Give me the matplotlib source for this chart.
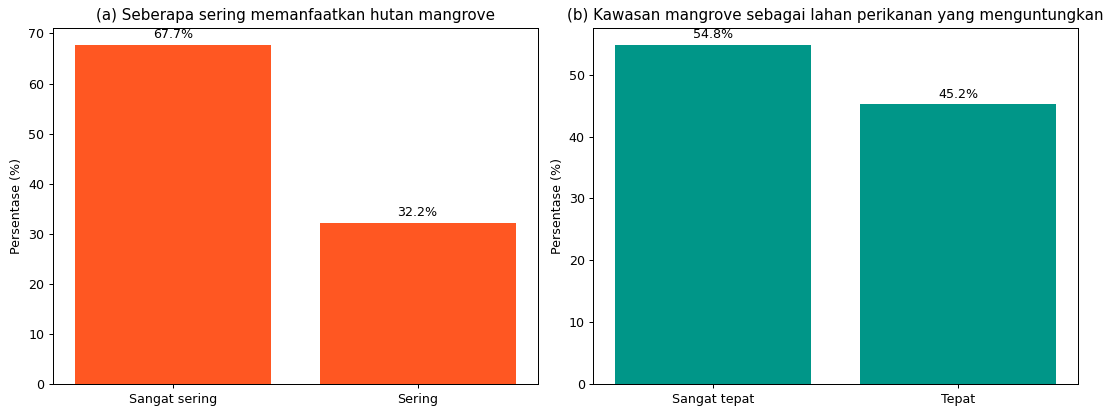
import matplotlib
matplotlib.use("Agg")
import matplotlib.pyplot as plt

cats_a = ["Sangat sering", "Sering"]
vals_a = [67.7, 32.2]
cats_b = ["Sangat tepat", "Tepat"]
vals_b = [54.8, 45.2]
title_a = "(a) Seberapa sering memanfaatkan hutan mangrove"
title_b = "(b) Kawasan mangrove sebagai lahan perikanan yang menguntungkan"
ylabel = "Persentase (%)"

DPI = 91
fig, axes = plt.subplots(1, 2, figsize=(1110 / DPI, 410 / DPI), dpi=DPI)
fig.subplots_adjust(left=53 / 1110, right=1078 / 1110,
                    bottom=1 - 384 / 410, top=1 - 28 / 410, wspace=56 / 485)

for ax, cats, vals, color, title in [
    (axes[0], cats_a, vals_a, "#FF5722", title_a),
    (axes[1], cats_b, vals_b, "#009688", title_b),
]:
    bars = ax.bar(cats, vals, color=color)
    for b, v in zip(bars, vals):
        ax.annotate(f"{v}%", (b.get_x() + b.get_width() / 2, v),
                    xytext=(0, 3), textcoords="offset points",
                    ha="center", va="bottom", fontsize=10)
    ax.set_title(title, fontsize=12)
    ax.set_ylabel(ylabel)

fig.savefig("out.png", dpi=DPI)
